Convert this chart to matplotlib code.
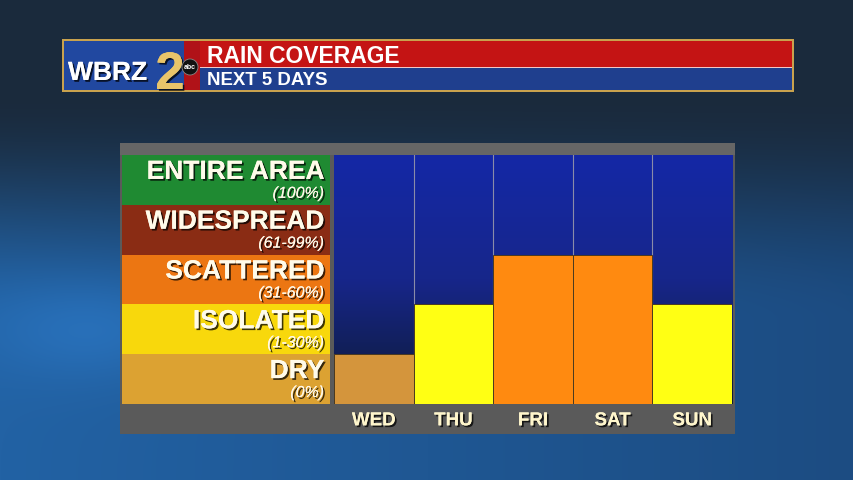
import numpy as np
import matplotlib
matplotlib.use("Agg")
import matplotlib.pyplot as plt
from matplotlib.patches import Rectangle, Circle
import matplotlib.patheffects as pe
from matplotlib.colors import to_rgb

# ---------------- data ----------------
title = "RAIN COVERAGE"
subtitle = "NEXT 5 DAYS"
days = ["WED", "THU", "FRI", "SAT", "SUN"]
coverage_level = [1, 2, 3, 3, 2]          # 1=dry .. 5=entire area
categories = ["DRY", "ISOLATED", "SCATTERED", "WIDESPREAD", "ENTIRE AREA"]
ranges = ["(0%)", "(1-30%)", "(31-60%)", "(61-99%)", "(100%)"]
cat_colors = ["#dca232", "#f8d80c", "#ec7612", "#8a2c14", "#1f8a32"]
bar_colors = {1: "#d4953c", 2: "#ffff14", 3: "#ff8a10", 4: "#8a2c14", 5: "#1f8a32"}

W, H = 854, 480
fig = plt.figure(figsize=(8.54, 4.8), dpi=100)
SANS = ["Liberation Sans", "DejaVu Sans"]
shadow = [pe.withSimplePatchShadow(offset=(1.3, -1.3), shadow_rgbFace="black", alpha=0.75), pe.Normal()]


def axes_px(x0, y0, x1, y1):
    return fig.add_axes([x0 / W, 1 - y1 / H, (x1 - x0) / W, (y1 - y0) / H])


# ---------------- background ----------------
bg = fig.add_axes([0, 0, 1, 1])
bg.set_axis_off()
bg.set_xlim(0, W)
bg.set_ylim(H, 0)
yy, xx = np.mgrid[0:H, 0:W]
t = np.clip((yy - 90) / 230.0, 0, 1)
t = t * t * (3 - 2 * t)
u = xx / W
top = np.array(to_rgb("#1a2a3c"))
midL = np.array(to_rgb("#2262a4"))
midR = np.array(to_rgb("#1c4c82"))
mid = midL[None, None, :] * (1 - u[..., None]) + midR[None, None, :] * u[..., None]
img = top[None, None, :] * (1 - t[..., None]) + mid * t[..., None]
# brighter patch low-left like the reference photo
spot = np.exp(-(((xx - 90) / 110.0) ** 2 + ((yy - 330) / 50.0) ** 2))[..., None]
img = img + (np.array(to_rgb("#2f7fd0")) - img) * 0.5 * spot
bg.imshow(np.clip(img, 0, 1), extent=(0, W, H, 0), aspect="auto", zorder=0)

# ---------------- banner ----------------
bg.add_patch(Rectangle((62, 39), 732, 53, facecolor="#c9a24e", edgecolor="none", zorder=1))
bg.add_patch(Rectangle((64, 41), 728, 26, facecolor="#c41414", edgecolor="none", zorder=2))
bg.add_patch(Rectangle((64, 67), 728, 1.2, facecolor="#f2c8c8", edgecolor="none", zorder=3))
bg.add_patch(Rectangle((64, 68.2), 728, 21.8, facecolor="#1f3f8e", edgecolor="none", zorder=2))
bg.add_patch(Rectangle((64, 41), 124, 49, facecolor="#2148a0", edgecolor="none", zorder=3))
bg.add_patch(Rectangle((184, 41), 16, 49, facecolor="#b01218", edgecolor="none", zorder=3))
bg.text(68, 80, "WBRZ", color="white", fontsize=19, fontweight="bold", family=SANS,
        ha="left", va="baseline", zorder=5, path_effects=shadow)
bg.text(170, 89, "2", color="#e9c46a", fontsize=38, fontweight="bold", family=SANS,
        ha="center", va="baseline", zorder=5, path_effects=shadow)
bg.add_patch(Circle((190, 67), 8, facecolor="#111111", edgecolor="#888888", lw=0.6, zorder=6))
bg.text(190, 67.5, "abc", color="white", fontsize=5, fontweight="bold", family=SANS,
        ha="center", va="center", zorder=7)
bg.text(207, 63, title, color="white", fontsize=16.5, fontweight="bold", family=SANS,
        ha="left", va="baseline", zorder=5)
bg.text(207, 85, subtitle, color="white", fontsize=13.4, fontweight="bold", family=SANS,
        ha="left", va="baseline", zorder=5)

# ---------------- panel ----------------
bg.add_patch(Rectangle((120, 143), 615, 291, facecolor="#5a5a5a", edgecolor="none", zorder=1))
bg.add_patch(Rectangle((120, 143), 615, 12, facecolor="#666666", edgecolor="none", zorder=1))

# ---------------- category column ----------------
cax = axes_px(122, 155, 330, 404)
cax.set_xlim(0, 1)
cax.set_ylim(0, 5)
cax.set_axis_off()
ypos = np.arange(len(categories)) + 0.5
cax.barh(ypos, 1, height=1, left=0, color=cat_colors, edgecolor="none")
for y, name, rng in zip(ypos, categories, ranges):
    cax.text(0.972, y + 0.02, name, color="#fffbea", fontsize=19, fontweight="bold",
             family=SANS, ha="right", va="baseline", path_effects=shadow)
    cax.text(0.972, y - 0.36, rng, color="#fff8e8", fontsize=11.5, style="italic",
             family=SANS, ha="right", va="baseline", path_effects=shadow)

# ---------------- day columns ----------------
dax = axes_px(334, 155, 732, 404)
dax.set_xlim(-0.5, len(days) - 0.5)
dax.set_ylim(0, 5)
grad = np.linspace(0, 1, 256)[:, None]
c_top = np.array(to_rgb("#1428a6"))
c_mid = np.array(to_rgb("#17268a"))
c_bot = np.array(to_rgb("#0d1a34"))
g = np.where(grad < 0.5,
             c_top * (1 - grad / 0.5) + c_mid * (grad / 0.5),
             c_mid * (1 - (grad - 0.5) / 0.5) + c_bot * ((grad - 0.5) / 0.5))
g = np.repeat(g[:, None, :], 2, axis=1)
dax.imshow(g, extent=(-0.5, len(days) - 0.5, 0, 5), aspect="auto", zorder=0)
for xs in np.arange(0.5, len(days) - 0.5, 1):
    dax.axvline(xs, color="#8a8ca8", lw=0.8, zorder=1)
x = np.arange(len(days))
dax.bar(x, coverage_level, width=1.0, color=[bar_colors[v] for v in coverage_level],
        edgecolor="#4a3a20", linewidth=0.7, zorder=2)
for s in dax.spines.values():
    s.set_visible(False)
dax.set_yticks([])
dax.set_xticks(x)
dax.set_xticklabels(days)
dax.tick_params(axis="x", length=0, pad=6)
for lbl in dax.get_xticklabels():
    lbl.set_color("#fff6cc")
    lbl.set_fontsize(13.5)
    lbl.set_fontweight("bold")
    lbl.set_family(SANS)
    lbl.set_path_effects(shadow)

fig.savefig("out.png", dpi=100)
